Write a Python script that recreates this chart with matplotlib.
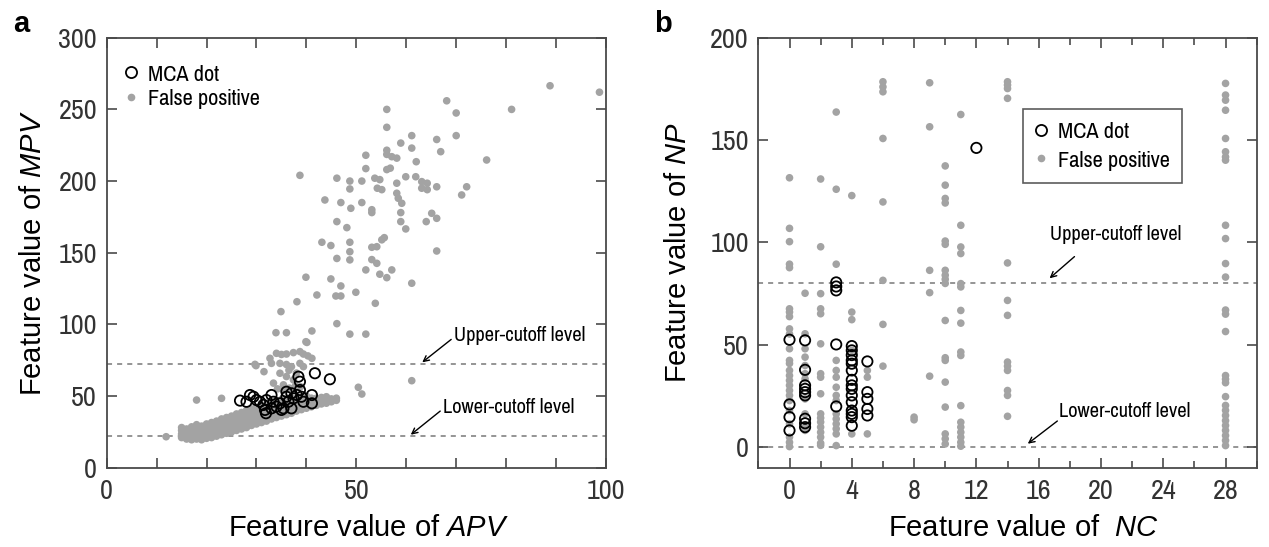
import numpy as np
import matplotlib
matplotlib.use('Agg')
import matplotlib.pyplot as plt
from matplotlib import font_manager
from matplotlib.ticker import MultipleLocator
from matplotlib.lines import Line2D

# pick a condensed sans for ticks / legend (reference uses an Arial-Narrow look)
available = {f.name for f in font_manager.fontManager.ttflist}
NARROW = next((n for n in ['Liberation Sans Narrow', 'Arial Narrow', 'Pragati Narrow',
                           'Archivo Narrow', 'PT Sans Narrow', 'Roboto Condensed',
                           'Open Sans Condensed', 'DejaVu Sans Condensed']
               if n in available), 'Liberation Sans')

plt.rcParams['font.family'] = [NARROW, 'Liberation Sans', 'DejaVu Sans']
plt.rcParams['mathtext.fontset'] = 'custom'
plt.rcParams['mathtext.rm'] = 'Liberation Sans'
plt.rcParams['mathtext.it'] = 'Liberation Sans:italic'

# ---------------- panel a: APV vs MPV ----------------
# sparse false positives (APV, MPV)
a_fp_sparse = [
    (88.8, 266.5), (98.7, 262), (81.1, 250), (68.1, 256), (70.0, 247.5), (70.0, 231.7),
    (76.1, 214.7), (66.1, 229), (66.9, 220.5), (56.1, 250), (56.1, 237.5), (61.1, 231.7),
    (61.1, 223), (62.0, 213.5), (58.9, 226.5), (56.1, 221.5), (56.1, 218.6), (57.1, 217),
    (58.1, 216), (51.9, 218), (51.9, 208.7), (56.1, 208), (56.8, 209), (38.7, 204),
    (46.1, 202), (48.7, 200), (48.7, 194.5), (51.1, 200), (53.7, 202), (54.7, 201),
    (54.2, 195), (55.1, 194), (58.1, 198.5), (58.1, 191.5), (58.4, 188), (59.1, 184.5),
    (59.9, 203), (61.9, 203), (63.1, 199.6), (64.2, 198.5), (63.1, 195), (64.2, 194),
    (66.1, 196), (71.1, 190.3), (72.1, 196), (43.7, 186.8), (46.9, 185), (48.9, 181),
    (51.1, 185), (53.1, 180), (53.1, 178), (58.9, 178), (58.9, 171.7), (59.9, 166.6),
    (64.0, 171.7), (65.1, 177.5), (66.1, 174), (46.1, 171.7), (48.1, 167.5), (43.1, 157.3),
    (44.9, 155), (48.7, 157.3), (48.7, 150.7), (48.7, 145), (53.1, 153.8), (54.1, 154.2),
    (55.1, 159), (55.6, 160.5), (46.1, 146), (53.1, 145.2), (54.1, 142.6), (66.1, 151.2),
    (51.9, 138), (54.7, 135), (56.1, 132.6), (57.1, 138), (61.1, 128.7), (39.9, 132.9),
    (44.9, 131.7), (46.9, 126.8), (49.9, 122.4), (42.1, 120.5), (45.9, 119.8), (46.9, 119.8),
    (53.8, 114.7), (38.1, 115.8), (34.9, 108.9), (46.1, 100.5), (33.9, 94.2), (36.0, 94.2),
    (41.1, 95.4), (40.1, 87.4), (48.7, 93.2), (51.9, 93.2), (61.1, 60.7), (50.4, 56.1),
    (51.1, 51.4), (18.0, 47.2), (23.0, 48.4), (29.9, 71.2), (11.9, 21.6),
]

# false positives just above the main cloud (APV, MPV)
a_fp_bump = [
    (29.7, 72.1), (32.7, 76.3), (34.0, 79.8), (35.0, 79.0), (36.0, 79.3), (37.4, 80.3),
    (38.7, 81.0), (39.4, 79.3), (40.3, 78.0), (41.1, 76.3), (33.0, 72.8), (34.7, 72.8),
    (36.0, 72.0), (37.0, 70.5), (38.7, 72.8), (39.4, 70.5), (34.7, 65.9), (36.0, 63.6),
    (37.4, 61.3), (33.4, 59.0), (35.4, 57.8), (38.0, 66.0), (36.5, 68.0), (39.9, 87.9),
    (31.5, 67.0), (35.5, 54.0), (37.8, 57.0), (36.6, 55.5), (38.8, 56.5), (34.2, 55.0),
]

# dense false-positive cloud, APV column -> MPV values
a_band_apv = [15, 16, 17, 18, 19, 20, 21, 22, 23, 24, 25, 26, 27, 28, 29, 30,
              31, 32, 33, 34, 35, 36, 37, 38, 39, 40, 41, 42, 43, 44, 45, 46]
a_band_mpv = [
    [21, 23.5, 26, 28],
    [20, 22, 24.5, 27],
    [19.5, 21.5, 24, 26.5, 28.5],
    [20, 22.5, 25, 27.5, 30],
    [19.5, 21, 23.5, 26, 29],
    [20.5, 23, 25.5, 28, 30.5],
    [21, 23.5, 26, 29, 31.5],
    [22, 24.5, 27, 30, 32.5],
    [23, 25.5, 28, 31, 34],
    [24, 26.5, 29, 32, 35],
    [25, 27.5, 30.5, 33, 36],
    [26, 28.5, 31.5, 34.5, 37.5],
    [27, 29.5, 32.5, 35.5, 38.5],
    [28, 30.5, 33.5, 36.5, 40],
    [29.5, 32, 35, 38, 41],
    [30.5, 33, 36, 39, 42],
    [31.5, 34.5, 37.5, 40.5, 43.5],
    [32.5, 35.5, 38.5, 41.5, 44.5],
    [34, 37, 40, 43, 46],
    [35, 38, 41, 44, 47],
    [36, 39, 42, 45, 47.5],
    [37, 40, 43, 46, 48.5],
    [38, 41, 44, 47, 49],
    [39.5, 42.5, 45.5, 48.5],
    [40.5, 43.5, 46.5, 49.5],
    [41.5, 44.5, 47.5, 50],
    [42.5, 45.5, 48.5],
    [43.5, 46, 48.5],
    [44.5, 47, 49],
    [45, 47.5, 49.5],
    [46, 48],
    [47, 48.5],
]

# MCA dots (APV, MPV)
a_mca = [
    (26.7, 46.8), (28.7, 50.7), (30.0, 47.2), (31.4, 43.8), (31.7, 40.3), (31.9, 38.0),
    (32.0, 47.2), (33.0, 50.7), (33.4, 46.0), (34.0, 42.6), (34.7, 44.9), (35.0, 40.3),
    (36.0, 49.5), (36.0, 53.0), (36.4, 46.0), (37.0, 41.4), (37.4, 48.4), (38.1, 50.7),
    (38.4, 63.5), (38.7, 60.0), (38.7, 54.2), (39.0, 49.5), (39.4, 46.0), (41.1, 50.7),
    (41.1, 44.9), (41.7, 65.9), (44.7, 61.7), (33.0, 41.4), (35.4, 41.4), (30.7, 46.0),
    (29.4, 49.5), (28.0, 46.0), (37.0, 51.9),
]
a_upper_cut = 72.4
a_lower_cut = 22.3

# ---------------- panel b: NC vs NP ----------------
b_nc = [0, 1, 2, 3, 4, 5, 6, 8, 9, 10, 11, 12, 14, 28]
b_fp_np = [
    [131.6, 106.9, 100.4, 89.4, 87.7, 67.6, 66, 63.8, 57.8, 55.3, 48.1, 42.4, 40.9,
     37.5, 35, 32.6, 30.2, 27.7, 25.3, 22.8, 17.9, 11.4, 4.9, 2.4, 0.3],
    [75.2, 55.4, 48.1, 44, 39.9, 35.9, 33.4, 23.6, 16.3, 9.8, 8.2],
    [131, 97.9, 75, 67.6, 65.2, 50.5, 35.9, 34.2, 26.1, 16.3, 14.3, 12.3, 9.8, 7.3,
     4.9, 2, 0.9],
    [163.7, 126, 89.4, 42.4, 37.5, 34.2, 29.3, 25.3, 22.8, 16.3, 13.8, 11.4, 9, 6.5, 0.8],
    [122.9, 66, 62.3, 47.3, 6.5],
    [37.5, 34.2, 6.5],
    [178.5, 176, 173.6, 150.8, 119.8, 81.5, 60, 39.6],
    [14.7, 13.4],
    [178, 156.5, 86.4, 75.5, 34.7],
    [137.4, 128, 121.5, 119.3, 100.7, 99.1, 86.4, 84, 82, 80, 61.9, 43.7, 42.4, 31.8,
     19.6, 6.5, 4.1, 1.6],
    [162.5, 108.4, 97.8, 94.6, 79.9, 78.3, 66.8, 60.6, 46.5, 44.8, 20.3, 12.2, 9.8,
     7.3, 4.9, 2.4, 0.5],
    [],
    [178.5, 176.9, 175.2, 170.4, 90, 71.7, 64.4, 41.6, 39.6, 37.5, 27.7, 25.3, 15.1],
    [177.7, 172, 169.5, 164.6, 150.8, 144.3, 141.8, 140.2, 108.4, 101.9, 89.7, 83.1,
     67, 65, 56.5, 35, 33.2, 31.5, 24.7, 20.4, 18, 15.5, 13, 10.6, 8.2, 5.7, 3.3, 0.8],
]
b_mca_np = [
    [52.5, 20.9, 14.7, 8.2],
    [52.2, 37.8, 30.2, 28.5, 26.9, 25.3, 13.9, 11.7, 9.8],
    [],
    [80.5, 78.5, 76.6, 50.2, 19.9],
    [49.4, 47.3, 45, 42.4, 40.8, 37.5, 32.9, 30.2, 28.5, 25.3, 22, 17.9, 16.3, 14.7, 10.5],
    [41.9, 26.9, 23.6, 18.7, 15.5],
    [], [], [], [], [],
    [146.2],
    [], [],
]
b_upper_cut = 80.3
b_lower_cut = 0.0

GRAY = '#a3a3a3'
SPINE = '#4a4a4a'


def flat(pairs):
    arr = np.array(pairs, dtype=float)
    return arr[:, 0], arr[:, 1]


def expand(cols, values):
    xs, ys = [], []
    for c, vals in zip(cols, values):
        xs += [c] * len(vals)
        ys += list(vals)
    return np.array(xs, dtype=float), np.array(ys, dtype=float)


def style_axes(ax):
    for sp in ax.spines.values():
        sp.set_color(SPINE)
        sp.set_linewidth(1.3)
    ax.tick_params(which='both', direction='in', top=True, right=True,
                   width=1.2, color=SPINE, labelsize=22, labelcolor='#333333')
    ax.tick_params(axis='x', which='both', pad=8)
    ax.tick_params(axis='y', which='both', pad=7)
    ax.tick_params(which='major', length=7)


fig = plt.figure(figsize=(12.69, 5.47), dpi=100)
ax_a = fig.add_axes([0.0841, 0.145, 0.3934, 0.786])
ax_b = fig.add_axes([0.5976, 0.145, 0.3927, 0.786])

# ---- panel a ----
sx, sy = flat(a_fp_sparse)
bx, by = flat(a_fp_bump)
cx, cy = expand(a_band_apv, a_band_mpv)
mx, my = flat(a_mca)
ax_a.axhline(a_upper_cut, color='#8c8c8c', lw=1.3, ls=(0, (2.8, 2.8)), zorder=1)
ax_a.axhline(a_lower_cut, color='#8c8c8c', lw=1.3, ls=(0, (2.8, 2.8)), zorder=1)
ax_a.scatter(np.concatenate([sx, bx, cx]), np.concatenate([sy, by, cy]),
             s=30, c=GRAY, edgecolors='none', zorder=2)
ax_a.scatter(mx, my, s=55, facecolors='none', edgecolors='black', linewidths=1.3, zorder=3)

ax_a.set_xlim(0, 100)
ax_a.set_ylim(0, 300)
ax_a.xaxis.set_major_locator(MultipleLocator(50))
ax_a.xaxis.set_minor_locator(MultipleLocator(10))
ax_a.yaxis.set_major_locator(MultipleLocator(50))
style_axes(ax_a)
ax_a.tick_params(axis='x', which='minor', length=7)

ax_a.set_xlabel(r'Feature value of $\it{APV}$', fontsize=21, family='Liberation Sans')
ax_a.set_ylabel(r'Feature value of $\it{MPV}$', fontsize=21, family='Liberation Sans')
ax_a.xaxis.set_label_coords(0.525, -0.107)
ax_a.yaxis.set_label_coords(-0.12, 0.5)

arrow = dict(arrowstyle='->', color='black', lw=1.0, shrinkA=0, shrinkB=0)
ax_a.text(69.6, 92.2, 'Upper-cutoff level', fontsize=16, ha='left', va='center')
ax_a.annotate('', xy=(63.2, 73.5), xytext=(69.0, 89.5), arrowprops=arrow)
ax_a.text(67.4, 42.3, 'Lower-cutoff level', fontsize=16, ha='left', va='center')
ax_a.annotate('', xy=(60.9, 23.0), xytext=(66.8, 39.5), arrowprops=arrow)

h_mca = Line2D([], [], ls='none', marker='o', mfc='none', mec='black', ms=8, mew=1.3)
h_fp = Line2D([], [], ls='none', marker='o', mfc=GRAY, mec='none', ms=5.5)
ax_a.legend([h_mca, h_fp], ['MCA dot', 'False positive'], loc='upper left',
            bbox_to_anchor=(0.029, 0.94), borderaxespad=0, borderpad=0, frameon=False,
            handlelength=0.8, handletextpad=0.3, labelspacing=0.15,
            prop=dict(family=NARROW, size=17.5))

# ---- panel b ----
fx, fy = expand(b_nc, b_fp_np)
kx, ky = expand(b_nc, b_mca_np)
ax_b.axhline(b_upper_cut, color='#8c8c8c', lw=1.3, ls=(0, (2.8, 2.8)), zorder=1)
ax_b.axhline(b_lower_cut, color='#8c8c8c', lw=1.3, ls=(0, (2.8, 2.8)), zorder=1)
ax_b.scatter(fx, fy, s=30, c=GRAY, edgecolors='none', zorder=2)
ax_b.scatter(kx, ky, s=55, facecolors='none', edgecolors='black', linewidths=1.3, zorder=3)

ax_b.set_xlim(-2, 30)
ax_b.set_ylim(-10, 200)
ax_b.xaxis.set_major_locator(MultipleLocator(4))
ax_b.xaxis.set_minor_locator(MultipleLocator(2))
ax_b.yaxis.set_major_locator(MultipleLocator(50))
style_axes(ax_b)
ax_b.tick_params(axis='x', which='minor', length=5)

ax_b.set_xlabel(r'Feature value of  $\it{NC}$', fontsize=21, family='Liberation Sans')
ax_b.set_ylabel(r'Feature value of $\it{NP}$', fontsize=21, family='Liberation Sans')
ax_b.xaxis.set_label_coords(0.531, -0.107)
ax_b.yaxis.set_label_coords(-0.134, 0.5)

ax_b.text(16.7, 103.8, 'Upper-cutoff level', fontsize=16, ha='left', va='center')
ax_b.annotate('', xy=(16.7, 82.5), xytext=(18.3, 93.1), arrowprops=arrow)
ax_b.text(17.3, 17.4, 'Lower-cutoff level', fontsize=16, ha='left', va='center')
ax_b.annotate('', xy=(15.3, 1.7), xytext=(17.2, 12.8), arrowprops=arrow)

leg = ax_b.legend([h_mca, h_fp], ['MCA dot', 'False positive'], loc='upper left',
                  bbox_to_anchor=(0.5305, 0.8337), borderaxespad=0, borderpad=0.5,
                  frameon=True, fancybox=False, handlelength=0.5, handletextpad=0.45,
                  labelspacing=0.3, prop=dict(family=NARROW, size=17.5))
leg.get_frame().set_edgecolor('#333333')
leg.get_frame().set_linewidth(1.2)

fig.text(21.7 / 1269, 1 - 24 / 547, 'a', fontsize=21, fontweight='bold',
         family='Liberation Sans', ha='center', va='center')
fig.text(663.3 / 1269, 1 - 24 / 547, 'b', fontsize=21, fontweight='bold',
         family='Liberation Sans', ha='center', va='center')

fig.savefig('out.png', dpi=100, facecolor='white')
